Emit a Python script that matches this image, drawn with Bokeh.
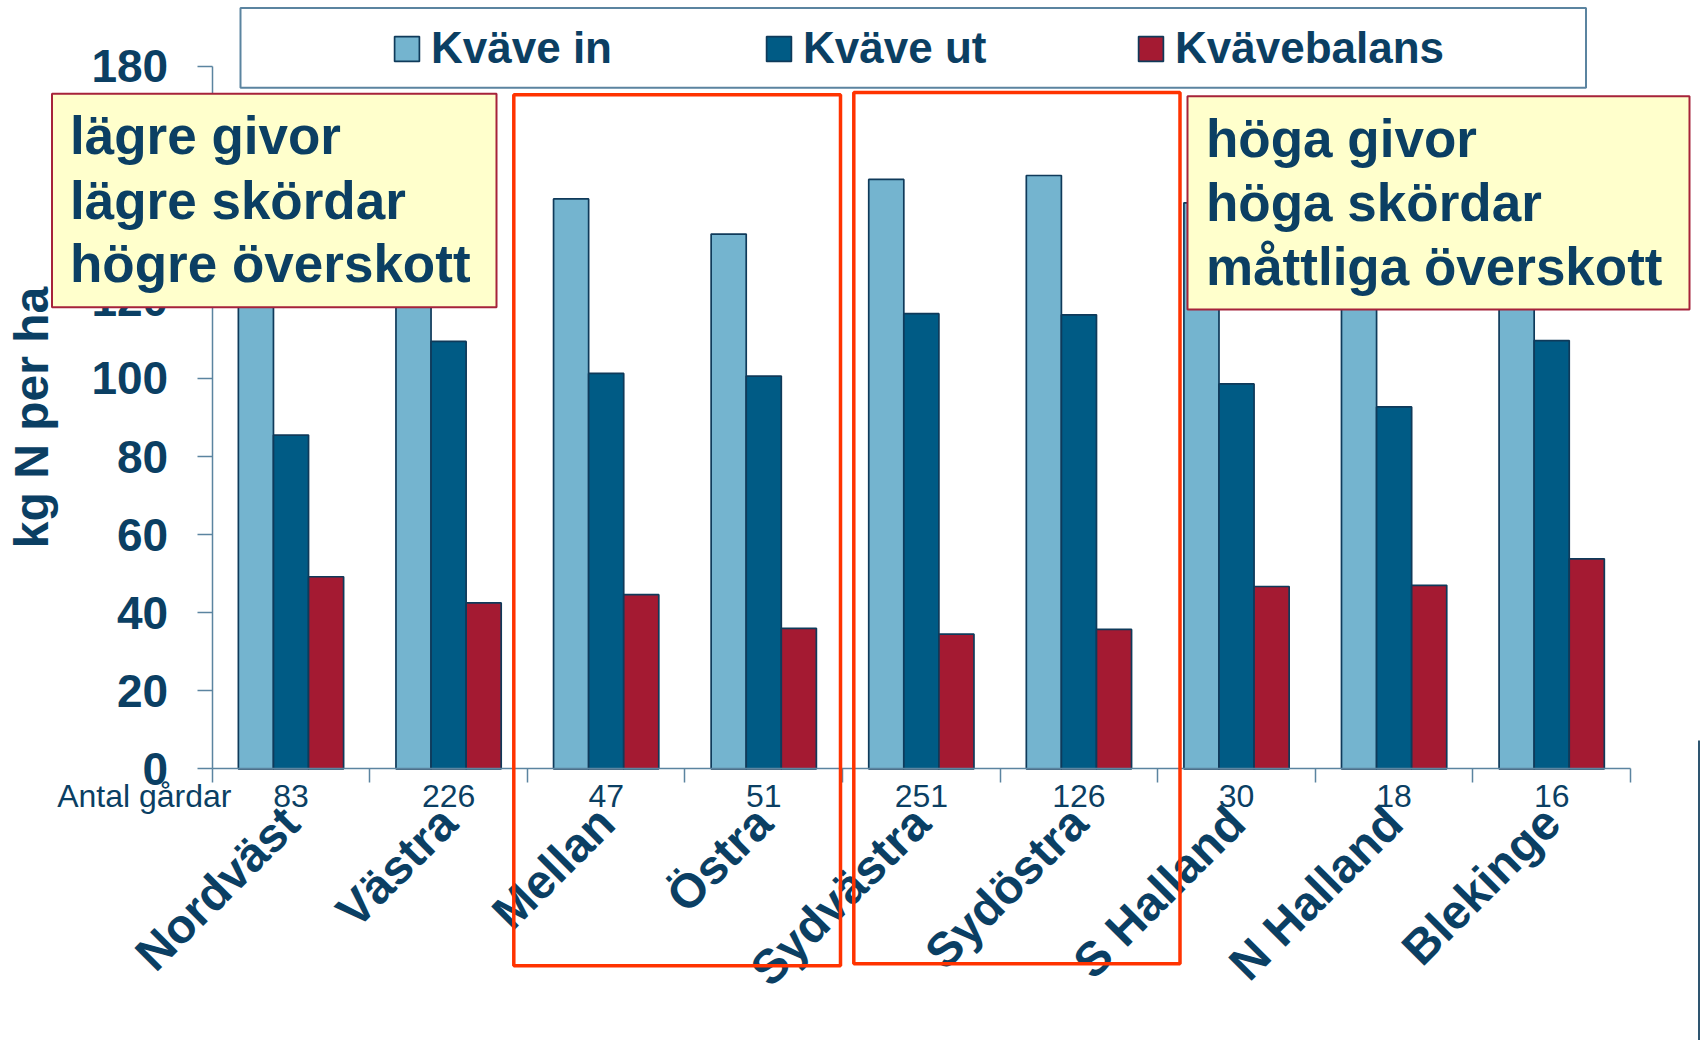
import numpy as np
from math import pi
from bokeh.plotting import figure
from bokeh.models import (Range1d, FixedTicker, LinearAxis, Legend, LegendItem,
                          BoxAnnotation, Label, ColumnDataSource)
from bokeh.embed import file_html
from bokeh.resources import INLINE

# ---------------- data ----------------
regions = ["Nordväst", "Västra", "Mellan", "Östra", "Sydvästra",
           "Sydöstra", "S Halland", "N Halland", "Blekinge"]
antal_gardar = [83, 226, 47, 51, 251, 126, 30, 18, 16]
kvave_in = [135, 152, 146, 137, 151, 152, 145, 140, 163]
kvave_ut = [85.5, 109.5, 101.3, 100.6, 116.6, 116.3, 98.6, 92.7, 109.7]
kvavebalans = [49.2, 42.5, 44.6, 36.0, 34.5, 35.7, 46.7, 47.0, 53.8]
series_labels = ["Kväve in", "Kväve ut", "Kvävebalans"]
y_ticks = [0, 20, 40, 60, 80, 100, 120, 140, 160, 180]
y_title = "kg N per ha"
count_title = "Antal gårdar"
box_left_lines = ["lägre givor", "lägre skördar", "högre överskott"]
box_right_lines = ["höga givor", "höga skördar", "måttliga överskott"]

# ---------------- layout / style ----------------
FONT = "Liberation Sans"
TEXT = "#0b3f63"
AXIS = "#5b84a0"
C_IN, C_UT, C_BAL = "#74b4cf", "#005b85", "#a41a32"
EDGE = "#0f3a5a"
W, H = 1700, 1040
X0_PX, XN_PX = 211.7, 1630.0      # pixel columns of the x axis ends
Y0_PX, YTOP_PX = 768.3, 65.7      # pixel rows of value 0 and of the top tick
n = len(regions)
ytop = y_ticks[-1]
sx = (XN_PX - X0_PX) / n
sy = (Y0_PX - YTOP_PX) / ytop

p = figure(width=W, height=H, output_backend="svg", toolbar_location=None,
           x_range=Range1d(-X0_PX / sx, (W - X0_PX) / sx),
           y_range=Range1d(-(H - Y0_PX) / sy, ytop + YTOP_PX / sy),
           min_border=0, outline_line_color=None,
           background_fill_color="white", border_fill_color="white")
p.grid.visible = False

idx = np.arange(n)
centers = idx + 0.5
bw = 0.2226
src = ColumnDataSource(dict(x_in=centers - bw, x_ut=centers, x_bal=centers + bw,
                            kin=kvave_in, kut=kvave_ut, kbal=kvavebalans))
rs = []
for xcol, ycol, col in [("x_in", "kin", C_IN), ("x_ut", "kut", C_UT), ("x_bal", "kbal", C_BAL)]:
    rs.append(p.vbar(x=xcol, top=ycol, bottom=0, width=bw, source=src,
                     fill_color=col, line_color=EDGE, line_width=1.7))

# y axis
yax = p.yaxis[0]
yax.fixed_location = 0
yax.bounds = (0, ytop)
yax.ticker = FixedTicker(ticks=y_ticks)
yax.axis_line_color = AXIS
yax.axis_line_width = 1.5
yax.major_tick_out = 15
yax.major_tick_in = 0
yax.major_tick_line_color = AXIS
yax.major_tick_line_width = 1.5
yax.minor_tick_line_color = None
yax.major_label_text_font = FONT
yax.major_label_text_font_style = "bold"
yax.major_label_text_font_size = "46px"
yax.major_label_text_color = TEXT
yax.major_label_standoff = 29
yax.axis_label = y_title
yax.axis_label_text_font = FONT
yax.axis_label_text_font_style = "bold"
yax.axis_label_text_font_size = "48px"
yax.axis_label_text_color = TEXT
yax.axis_label_standoff = 31

# x axis with counts
xax = p.xaxis[0]
xax.fixed_location = 0
xax.bounds = (0, n)
xax.ticker = FixedTicker(ticks=list(centers), minor_ticks=list(range(n + 1)))
xax.major_label_overrides = {float(c): str(v) for c, v in zip(centers, antal_gardar)}
xax.axis_line_color = AXIS
xax.axis_line_width = 1.5
xax.major_tick_out = 0
xax.major_tick_in = 0
xax.major_tick_line_color = None
xax.minor_tick_out = 14
xax.minor_tick_in = 0
xax.minor_tick_line_color = AXIS
xax.minor_tick_line_width = 1.5
xax.major_label_text_font = FONT
xax.major_label_text_font_size = "32px"
xax.major_label_text_color = TEXT
xax.major_label_standoff = 2

# x axis with region names
nax = LinearAxis(ticker=FixedTicker(ticks=list(centers)), fixed_location=0, bounds=(0, n),
                 major_label_overrides={float(c): r for c, r in zip(centers, regions)},
                 axis_line_color=None, major_tick_line_color=None,
                 minor_tick_line_color=None, major_tick_out=0, major_tick_in=0,
                 major_label_orientation=pi / 4, major_label_standoff=46,
                 major_label_text_font=FONT, major_label_text_font_style="bold",
                 major_label_text_font_size="48px", major_label_text_color=TEXT)
p.add_layout(nax, "below")


def cbox(l, r, t, b, **kw):
    return BoxAnnotation(left=l, right=r, top=t, bottom=b,
                         left_units="canvas", right_units="canvas",
                         top_units="canvas", bottom_units="canvas", **kw)


# legend frame
p.add_layout(cbox(240, 1585.5, 7.5, 87.3, fill_color="white", fill_alpha=1,
                  line_color=AXIS, line_alpha=1, line_width=2, level="annotation"))

legend = Legend(items=[LegendItem(label=lab, renderers=[r]) for lab, r in zip(series_labels, rs)],
                orientation="horizontal", location=(391, 967),
                glyph_width=31, glyph_height=31, label_standoff=9, label_width=332,
                spacing=0, padding=0, margin=0, border_line_color=None,
                background_fill_alpha=0, label_text_font=FONT,
                label_text_font_style="bold", label_text_font_size="44px",
                label_text_color=TEXT)
p.add_layout(legend, "center")

# annotation boxes
p.add_layout(cbox(51.5, 496, 93.3, 306.7, fill_color="#ffffcc", fill_alpha=1,
                  line_color="#a6233a", line_alpha=1, line_width=2, level="overlay"))
p.add_layout(cbox(1187, 1689, 95.7, 309, fill_color="#ffffcc", fill_alpha=1,
                  line_color="#a6233a", line_alpha=1, line_width=2, level="overlay"))
p.add_layout(cbox(513.3, 840, 94.3, 965.3, fill_alpha=0, line_color="#ff3300",
                  line_alpha=1, line_width=3.5, level="overlay"))
p.add_layout(cbox(853.3, 1179.5, 92, 963.3, fill_alpha=0, line_color="#ff3300",
                  line_alpha=1, line_width=3.5, level="overlay"))
p.add_layout(cbox(1697.5, 1699.5, 740, 1040, fill_color="#2e5570", fill_alpha=1,
                  line_alpha=0, level="overlay"))

for lines, x0, ys in [(box_left_lines, 69.5, [135, 199.5, 263.3]),
                      (box_right_lines, 1205.5, [137.5, 201.5, 266])]:
    for txt, yy in zip(lines, ys):
        p.add_layout(Label(x=x0, y=yy, x_units="canvas", y_units="canvas",
                           text=txt, text_font=FONT, text_font_style="bold",
                           text_font_size="53px", text_color=TEXT,
                           text_align="left", text_baseline="alphabetic",
                           level="overlay"))

p.add_layout(Label(x=231, y=795.5, x_units="canvas", y_units="canvas",
                   text=count_title, text_font=FONT, text_font_size="32px",
                   text_color=TEXT, text_align="right", text_baseline="alphabetic"))

open("out.html", "w").write(file_html(p, INLINE))
